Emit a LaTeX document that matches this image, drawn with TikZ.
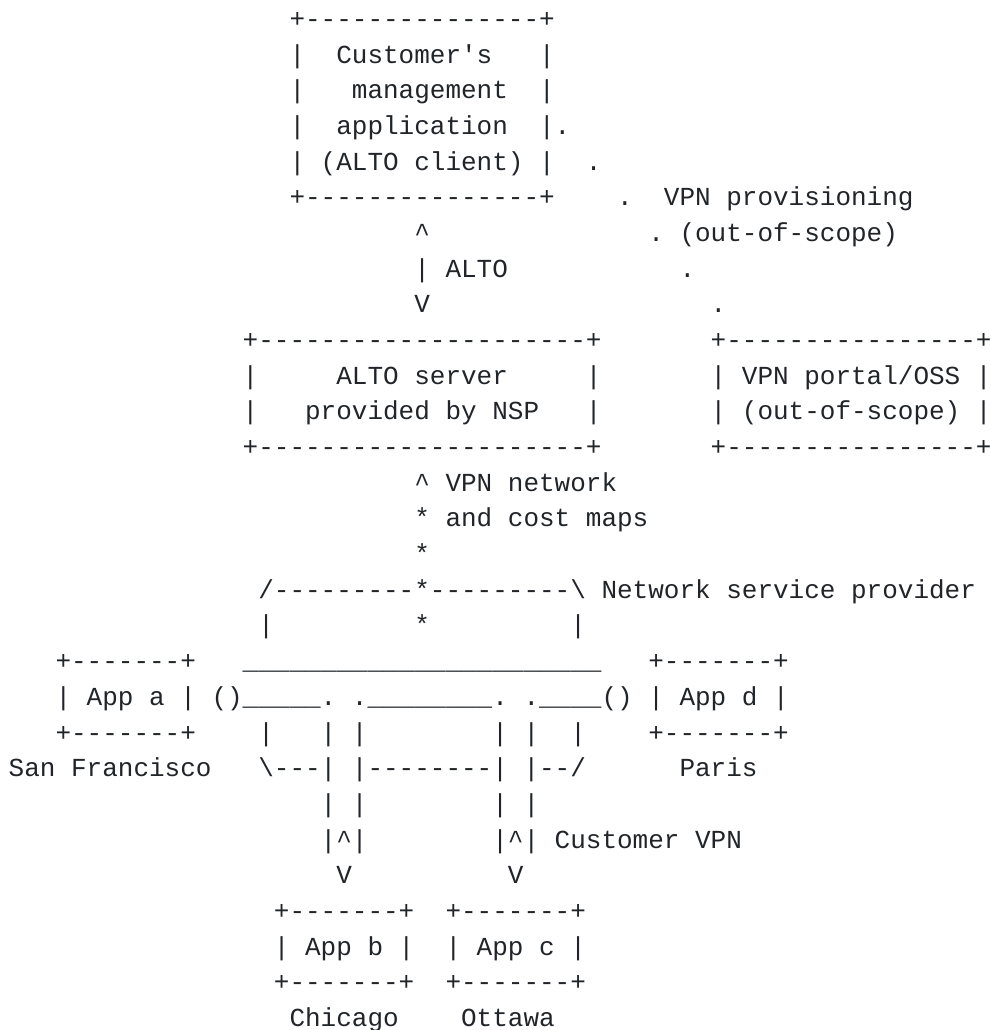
\documentclass[tikz,border=0pt]{standalone}
\usepackage{fontspec}
\setmonofont{Liberation Mono}
\definecolor{ink}{RGB}{33,37,41}
\tikzset{txt/.style={anchor=base west, inner sep=0pt, outer sep=0pt,
  font=\ttfamily\fontsize{26}{26}\selectfont, text=ink}}
% #1 name, #2 column, #3 line, #4 text
\newcommand\Seg[4]{\node[txt] (#1) at ({8.7+#2*15.6},{27.6+(#3-1)*35.67}) {#4};}
\begin{document}
\begin{tikzpicture}[x=1pt,y=-1pt]
\useasboundingbox[fill=white] (0,0) rectangle (990,1030);
% Customer's management application
\Seg{a1}{18}{1}{+---------------+}
\Seg{a2l}{18}{2}{|}\Seg{a2t}{21}{2}{Customer\textquotesingle s}\Seg{a2r}{34}{2}{|}
\Seg{a3l}{18}{3}{|}\Seg{a3t}{22}{3}{management}\Seg{a3r}{34}{3}{|}
\Seg{a4l}{18}{4}{|}\Seg{a4t}{21}{4}{application}\Seg{a4r}{34}{4}{|.}
\Seg{a5l}{18}{5}{|}\Seg{a5t}{20}{5}{(ALTO client)}\Seg{a5r}{34}{5}{|}\Seg{a5d}{37}{5}{.}
\Seg{a6}{18}{6}{+---------------+}\Seg{a6d}{39}{6}{.}\Seg{a6t}{42}{6}{VPN provisioning}
\Seg{b7}{26}{7}{\textasciicircum}\Seg{b7d}{41}{7}{.}\Seg{b7t}{43}{7}{(out-of-scope)}
\Seg{b8}{26}{8}{| ALTO}\Seg{b8d}{43}{8}{.}
\Seg{b9}{26}{9}{V}\Seg{b9d}{45}{9}{.}
% ALTO server and VPN portal
\Seg{s10}{15}{10}{+---------------------+}\Seg{p10}{45}{10}{+----------------+}
\Seg{s11l}{15}{11}{|}\Seg{s11t}{21}{11}{ALTO server}\Seg{s11r}{37}{11}{|}\Seg{p11}{45}{11}{| VPN portal/OSS |}
\Seg{s12l}{15}{12}{|}\Seg{s12t}{19}{12}{provided by NSP}\Seg{s12r}{37}{12}{|}\Seg{p12}{45}{12}{| (out-of-scope) |}
\Seg{s13}{15}{13}{+---------------------+}\Seg{p13}{45}{13}{+----------------+}
\Seg{c14}{26}{14}{\textasciicircum{} VPN network}
\Seg{c15}{26}{15}{* and cost maps}
\Seg{c16}{26}{16}{*}
\Seg{c17}{16}{17}{/---------*---------\textbackslash{} Network service provider}
\Seg{c18l}{16}{18}{|}\Seg{c18m}{26}{18}{*}\Seg{c18r}{36}{18}{|}
% Network
\Seg{n19a}{3}{19}{+-------+}\Seg{n19u}{15}{19}{\_\_\_\_\_\_\_\_\_\_\_\_\_\_\_\_\_\_\_\_\_\_\_}\Seg{n19d}{41}{19}{+-------+}
\Seg{n20a}{3}{20}{| App a |}\Seg{n20m}{13}{20}{()\_\_\_\_\_. .\_\_\_\_\_\_\_\_. .\_\_\_\_()}\Seg{n20d}{41}{20}{| App d |}
\Seg{n21a}{3}{21}{+-------+}\Seg{n21b}{16}{21}{|}\Seg{n21c}{20}{21}{| |}\Seg{n21e}{31}{21}{| |}\Seg{n21f}{36}{21}{|}\Seg{n21d}{41}{21}{+-------+}
\Seg{n22a}{0}{22}{San Francisco}\Seg{n22m}{16}{22}{\textbackslash---| |--------| |--/}\Seg{n22d}{43}{22}{Paris}
\Seg{n23b}{20}{23}{| |}\Seg{n23c}{31}{23}{| |}
\Seg{n24b}{20}{24}{|\textasciicircum|}\Seg{n24c}{31}{24}{|\textasciicircum| Customer VPN}
\Seg{n25b}{21}{25}{V}\Seg{n25c}{32}{25}{V}
\Seg{n26b}{17}{26}{+-------+}\Seg{n26c}{28}{26}{+-------+}
\Seg{n27b}{17}{27}{| App b |}\Seg{n27c}{28}{27}{| App c |}
\Seg{n28b}{17}{28}{+-------+}\Seg{n28c}{28}{28}{+-------+}
\Seg{n29b}{18}{29}{Chicago}\Seg{n29c}{29}{29}{Ottawa}
\end{tikzpicture}
\end{document}
